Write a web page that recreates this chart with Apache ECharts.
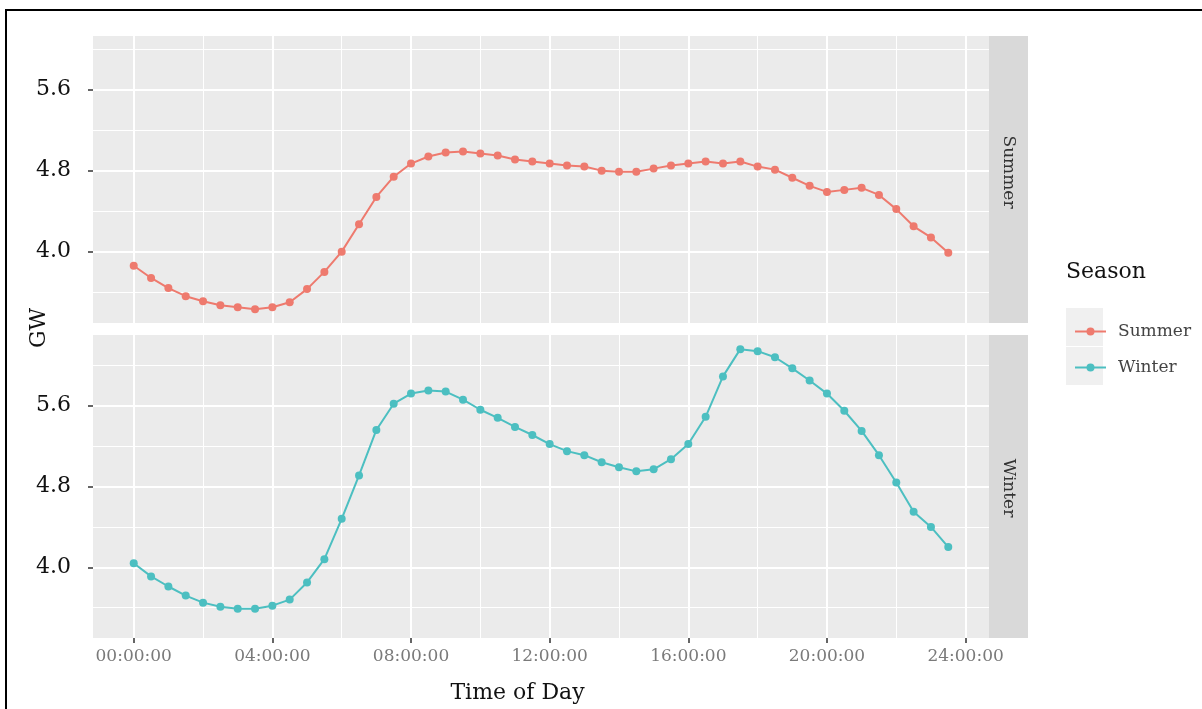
<!DOCTYPE html>
<html>
<head>
<meta charset="utf-8">
<title>GW by Time of Day</title>
<script src="https://cdn.jsdelivr.net/npm/echarts@6/dist/echarts.min.js"></script>
<style>
  html, body { margin: 0; padding: 0; background: #fff; }
  #chart { width: 1202px; height: 709px; }
</style>
</head>
<body>
<div id="chart"></div>
<script>
// half-hour steps, in hours
const hours = [0, 0.5, 1, 1.5, 2, 2.5, 3, 3.5, 4, 4.5, 5, 5.5, 6, 6.5, 7, 7.5,
  8, 8.5, 9, 9.5, 10, 10.5, 11, 11.5, 12, 12.5, 13, 13.5, 14, 14.5, 15, 15.5,
  16, 16.5, 17, 17.5, 18, 18.5, 19, 19.5, 20, 20.5, 21, 21.5, 22, 22.5, 23, 23.5];
const summer = [3.86, 3.74, 3.64, 3.56, 3.51, 3.47, 3.45, 3.43,
  3.45, 3.50, 3.63, 3.80, 4.00, 4.27, 4.54, 4.74,
  4.87, 4.94, 4.98, 4.99, 4.97, 4.95, 4.91, 4.89,
  4.87, 4.85, 4.84, 4.80, 4.79, 4.79, 4.82, 4.85,
  4.87, 4.89, 4.87, 4.89, 4.84, 4.81, 4.73, 4.65,
  4.59, 4.61, 4.63, 4.56, 4.42, 4.25, 4.14, 3.99];
const winter = [4.04, 3.91, 3.81, 3.72, 3.65, 3.61, 3.59, 3.59,
  3.62, 3.68, 3.85, 4.08, 4.48, 4.91, 5.36, 5.62,
  5.72, 5.75, 5.74, 5.66, 5.56, 5.48, 5.39, 5.31,
  5.22, 5.15, 5.11, 5.04, 4.99, 4.95, 4.97, 5.07,
  5.22, 5.49, 5.89, 6.16, 6.14, 6.08, 5.97, 5.85,
  5.72, 5.55, 5.35, 5.11, 4.84, 4.55, 4.40, 4.20];
const seasons = ["Summer", "Winter"];
const xTicks = [0, 4, 8, 12, 16, 20, 24];
const xMinor = [2, 6, 10, 14, 18, 22];
const yTicks = [4.0, 4.8, 5.6];
const yMinor = [3.6, 4.4, 5.2, 6.0];

const FONT = "DejaVu Serif";
const colors = ["#EE7A6E", "#4CBFC1"];

function hms(v) {
  const h = Math.round(v);
  return (h < 10 ? "0" + h : "" + h) + ":00:00";
}

// one x axis pair (major + minor grid) per panel
function xAxes(gi, showLabels) {
  return [
    {
      type: "value", gridIndex: gi, min: -1.175, max: 24.675, position: "bottom",
      axisLine: { show: false, onZero: false },
      axisTick: { show: showLabels, length: 5, customValues: xTicks, lineStyle: { color: "#333", width: 1.5 } },
      axisLabel: showLabels ? {
        show: true, customValues: xTicks, formatter: hms, margin: 10,
        fontFamily: FONT, fontSize: 17, color: "#7a7a7a"
      } : { show: false },
      splitLine: { show: true, lineStyle: { color: "#fff", width: 2 } },
      name: showLabels ? "Time of Day" : "",
      nameLocation: "middle", nameGap: 44,
      nameTextStyle: { fontFamily: FONT, fontSize: 22, color: "#111", padding: [0, 47, 0, 0] }
    },
    {
      type: "value", gridIndex: gi, min: -1.175, max: 24.675, position: "bottom",
      axisLine: { show: false, onZero: false },
      axisTick: { show: false, customValues: xMinor },
      axisLabel: { show: false },
      splitLine: { show: true, lineStyle: { color: "#fff", width: 1 } }
    }
  ];
}

function yAxes(gi, min, max) {
  return [
    {
      type: "value", gridIndex: gi, min: min, max: max, position: "left",
      axisLine: { show: false, onZero: false },
      axisTick: { show: true, length: 5, customValues: yTicks, lineStyle: { color: "#333", width: 1.5 } },
      axisLabel: {
        customValues: yTicks, margin: 22, fontFamily: FONT, fontSize: 22, color: "#111",
        formatter: v => v.toFixed(1)
      },
      splitLine: { show: true, lineStyle: { color: "#fff", width: 2 } }
    },
    {
      type: "value", gridIndex: gi, min: min, max: max, position: "left",
      axisLine: { show: false, onZero: false },
      axisTick: { show: false, customValues: yMinor },
      axisLabel: { show: false },
      splitLine: { show: true, lineStyle: { color: "#fff", width: 1 } }
    }
  ];
}

const panels = [
  { top: 36, height: 287 },
  { top: 335, height: 303 }
];

const option = {
  animation: false,
  title: {
    text: "Season", left: 1066, top: 261, padding: 0,
    textStyle: { fontFamily: FONT, fontSize: 22, fontWeight: "normal", color: "#111" }
  },
  legend: {
    data: seasons, orient: "vertical", left: 1069, top: 318,
    itemWidth: 31, itemHeight: 10, itemGap: 19,
    textStyle: { fontFamily: FONT, fontSize: 17, color: "#444", padding: [0, 0, 0, 7] }
  },
  grid: panels.map(p => ({
    left: 93, width: 896, top: p.top, height: p.height,
    show: true, backgroundColor: "#ebebeb", borderWidth: 0
  })),
  xAxis: [].concat(xAxes(0, false), xAxes(1, true)),
  yAxis: [].concat(yAxes(0, 3.295, 6.13), yAxes(1, 3.30, 6.30)),
  series: [summer, winter].map((vals, i) => ({
    name: seasons[i], type: "line",
    xAxisIndex: i * 2, yAxisIndex: i * 2,
    data: hours.map((h, k) => [h, vals[k]]),
    symbol: "circle", symbolSize: 8, showSymbol: true,
    color: colors[i],
    lineStyle: { width: 2, color: colors[i] },
    itemStyle: { color: colors[i] },
    z: 5
  })),
  graphic: [
    // frame
    { type: "rect", shape: { x: 6, y: 10, width: 1230, height: 740 }, style: { fill: "none", stroke: "#000", lineWidth: 2 }, silent: true },
    // facet strips
    { type: "rect", shape: { x: 989, y: 36, width: 39, height: 287 }, style: { fill: "#d9d9d9" }, silent: true },
    { type: "rect", shape: { x: 989, y: 335, width: 39, height: 303 }, style: { fill: "#d9d9d9" }, silent: true },
    { type: "text", x: 1008, y: 172, rotation: -Math.PI / 2,
      style: { text: seasons[0], fontFamily: FONT, fontSize: 17, fill: "#333", align: "center", verticalAlign: "middle" } },
    { type: "text", x: 1008, y: 488, rotation: -Math.PI / 2,
      style: { text: seasons[1], fontFamily: FONT, fontSize: 17, fill: "#333", align: "center", verticalAlign: "middle" } },
    // y axis title
    { type: "text", x: 39, y: 328, rotation: Math.PI / 2,
      style: { text: "GW", fontFamily: FONT, fontSize: 22, fill: "#111", align: "center", verticalAlign: "middle" } },
    // legend key backgrounds
    { type: "rect", z: -1, shape: { x: 1066, y: 308, width: 37, height: 38 }, style: { fill: "#f0f0f0" }, silent: true },
    { type: "rect", z: -1, shape: { x: 1066, y: 347, width: 37, height: 38 }, style: { fill: "#f0f0f0" }, silent: true }
  ]
};

const myChart = echarts.init(document.getElementById("chart"));
myChart.setOption(option);
window.addEventListener("resize", () => {
  myChart.resize();
});
</script>
</body>
</html>
